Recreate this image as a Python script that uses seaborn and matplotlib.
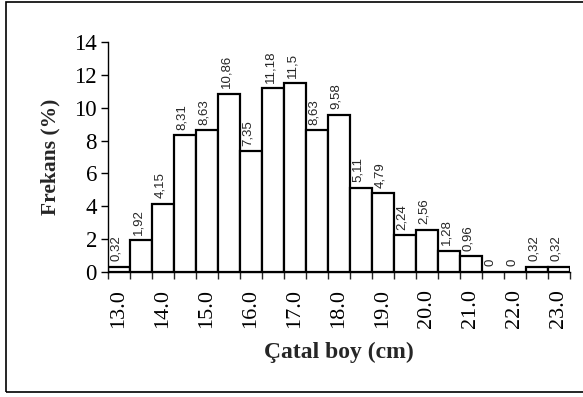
import matplotlib
matplotlib.use("Agg")
import matplotlib.pyplot as plt
import seaborn as sns
import pandas as pd
from matplotlib.patches import Rectangle

categories = ["13.0", "13.5", "14.0", "14.5", "15.0", "15.5", "16.0", "16.5", "17.0", "17.5",
              "18.0", "18.5", "19.0", "19.5", "20.0", "20.5", "21.0", "21.5", "22.0", "22.5", "23.0"]
values = [0.32, 1.92, 4.15, 8.31, 8.63, 10.86, 7.35, 11.18, 11.5, 8.63,
          9.58, 5.11, 4.79, 2.24, 2.56, 1.28, 0.96, 0, 0, 0.32, 0.32]
value_labels = ["0,32", "1,92", "4,15", "8,31", "8,63", "10,86", "7,35", "11,18", "11,5", "8,63",
                "9,58", "5,11", "4,79", "2,24", "2,56", "1,28", "0,96", "0", "0", "0,32", "0,32"]
tick_labels = ["13.0", "14.0", "15.0", "16.0", "17.0", "18.0", "19.0", "20.0", "21.0", "22.0", "23.0"]

sns.set_theme(style="ticks")
plt.rcParams['font.family'] = ['Liberation Serif', 'DejaVu Serif']

df = pd.DataFrame({"boy": categories, "frekans": values})

fig = plt.figure(figsize=(5.83, 3.97), dpi=100)
ax = fig.add_axes([108/583, 1 - 272/397, (570 - 108)/583, (272 - 42)/397])

sns.barplot(data=df, x="boy", y="frekans", order=categories, color="white",
            edgecolor="black", linewidth=1.6, width=1.0, ax=ax, saturation=1)

ax.set_xlim(-0.5, len(categories) - 0.5)
ax.set_ylim(0, 14)
ax.set_yticks([0, 2, 4, 6, 8, 10, 12, 14])
ax.tick_params(axis="y", labelsize=16.5, length=5, width=1, direction="out", pad=3, colors="black")

ax.set_xticks(range(0, len(categories), 2))
ax.set_xticklabels(tick_labels, rotation=90, fontsize=16)
ax.set_xticks([i - 0.5 for i in range(len(categories) + 1)], minor=True)
ax.tick_params(axis="x", which="major", length=0, pad=12, colors="black")
ax.tick_params(axis="x", which="minor", length=5, width=1, direction="out")

for s in ["top", "right"]:
    ax.spines[s].set_visible(False)
for s in ["left", "bottom"]:
    ax.spines[s].set_linewidth(1)
    ax.spines[s].set_color("black")

ax.set_xlabel("Çatal boy (cm)", fontsize=17, fontweight="bold", labelpad=10)
ax.set_ylabel("Frekans (%)", fontsize=15.5, fontweight="bold", labelpad=10)

for i, (v, lab) in enumerate(zip(values, value_labels)):
    ax.annotate(lab, xy=(i, v), xytext=(-2, 4), textcoords="offset points",
                rotation=90, ha="center", va="bottom", fontsize=9.5,
                family=["Liberation Sans", "DejaVu Sans"])

fig.patches.append(Rectangle((6/583, 1 - 392/397), 1.0, (392 - 2)/397,
                             transform=fig.transFigure, fill=False,
                             edgecolor="black", linewidth=1.2))

fig.savefig("out.png", dpi=100)
